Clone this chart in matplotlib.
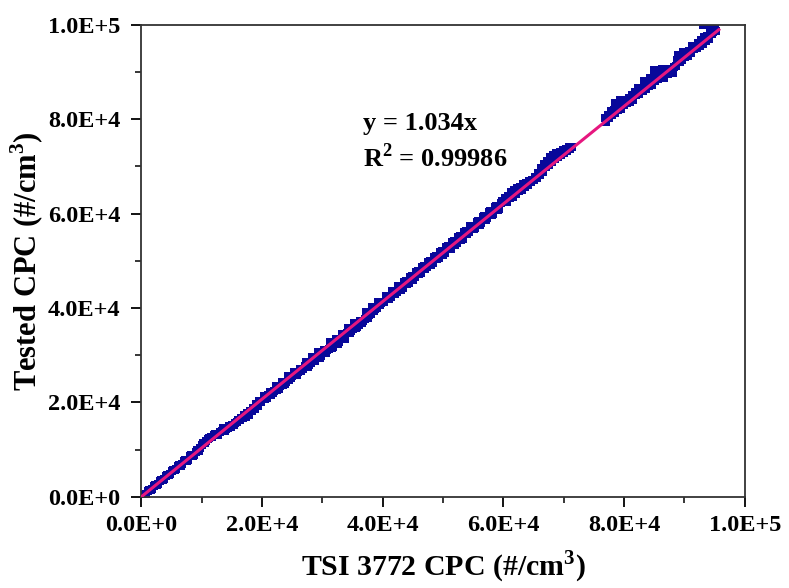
import matplotlib.pyplot as plt
import numpy as np
from matplotlib.ticker import MultipleLocator, FuncFormatter

plt.rcParams['font.family'] = ['Liberation Serif', 'DejaVu Serif']
plt.rcParams['font.weight'] = 'bold'
plt.rcParams['mathtext.fontset'] = 'custom'
plt.rcParams['mathtext.rm'] = 'Liberation Serif:bold'

# TSI 3772 CPC readings (x) and tested CPC readings (y)
tsi_a = [300, 800, 1300, 1800, 2300, 2800, 3300, 3800, 4300, 4800, 5300, 5800, 6300, 6800,
         7300, 7800, 8300, 8800, 9300, 9800, 10300, 10800, 11300, 11800, 12300, 12800, 13300,
         13800, 14300, 14800, 15300, 15800, 16300, 16800, 17300, 17800, 18300, 18800, 19300, 19800,
         550, 1050, 1550, 2050, 2550, 3050, 3550, 4050, 4550, 5050, 5550, 6050, 6550, 7050,
         7550, 8050, 8550, 9050, 9550, 10050, 10550, 11050, 11550, 12050, 12550, 13050, 13550,
         14050, 14550, 15050, 15550, 16050, 16550, 17050, 17550, 18050, 18550, 19050, 19550]
cpc_a = [450, 700, 1500, 1750, 2500, 2750, 3550, 3800, 4600, 4800, 5650, 5850, 6700, 6900,
         7750, 7900, 8800, 8950, 9900, 10300, 11400, 11900, 12400, 12700, 13300, 13100, 14000,
         14000, 14500, 14900, 15300, 15900, 16200, 16600, 17000, 17400, 18100, 18700, 19300, 20000,
         400, 1250, 1450, 2300, 2450, 3350, 3500, 4350, 4550, 5400, 5600, 6450, 6600, 7500,
         7700, 8600, 8700, 9600, 9700, 10900, 11500, 12300, 12700, 13000, 13300, 13700, 14500,
         14300, 15000, 15300, 15600, 16200, 16700, 17300, 17700, 18200, 18900, 19600, 20300]

tsi_b = [20300, 20800, 21300, 21800, 22300, 22800, 23300, 23800, 24300, 24800, 25300, 25800,
         26300, 26800, 27300, 27800, 28300, 28800, 29300, 29800, 30300, 30800, 31300, 31800,
         32300, 32800, 33300, 33800, 34300, 34800, 35300, 35800, 36300, 36800, 37300, 37800,
         38300, 38800, 39300, 39800,
         20550, 21050, 21550, 22050, 22550, 23050, 23550, 24050, 24550, 25050, 25550, 26050,
         26550, 27050, 27550, 28050, 28550, 29050, 29550, 30050, 30550, 31050, 31550, 32050,
         32550, 33050, 33550, 34050, 34550, 35050, 35550, 36050, 36550, 37050, 37550, 38050,
         38550, 39050, 39550]
cpc_b = [21300, 21000, 22300, 22000, 23400, 22900, 24400, 24000, 25500, 25100, 26500, 25900,
         27000, 27000, 28600, 27900, 29600, 28800, 30600, 29900, 31000, 31000, 32700, 31800,
         33500, 32900, 34500, 33500, 35800, 35200, 36900, 36000, 37200, 37200, 39100, 38600,
         40300, 39800, 41200, 41000,
         20700, 21600, 21600, 22400, 22700, 23500, 23700, 24400, 24800, 25500, 25800, 26400,
         26600, 27700, 27600, 28300, 28700, 29400, 29500, 30500, 30500, 31300, 31500, 32300,
         32400, 33400, 33700, 34600, 34600, 35500, 35700, 36300, 36800, 37600, 37900, 38800,
         39300, 40000, 40600]

tsi_c = [40300, 40800, 41300, 41800, 42300, 42800, 43300, 43800, 44300, 44800, 45300, 45800,
         46300, 46800, 47300, 47800, 48300, 48800, 49300, 49800, 50300, 50800, 51300, 51800,
         52300, 52800, 53300, 53800, 54300, 54800, 55300, 55800, 56300, 56800, 57300, 57800,
         58300, 58800, 59300, 59800,
         40550, 41050, 41550, 42050, 42550, 43050, 43550, 44050, 44550, 45050, 45550, 46050,
         46550, 47050, 47550, 48050, 48550, 49050, 49550, 50050, 50550, 51050, 51550, 52050,
         52550, 53050, 53550, 54050, 54550, 55050, 55550, 56050, 56550, 57050, 57550, 58050,
         58550, 59050, 59550]
cpc_c = [41300, 42500, 42300, 43600, 43300, 44700, 44300, 45700, 45300, 46800, 46500, 47800,
         47400, 48900, 48600, 49900, 49500, 51000, 50500, 52000, 51600, 53100, 52600, 54200,
         53700, 55300, 54700, 56300, 56000, 57400, 57000, 58500, 58000, 59500, 59000, 60600,
         60000, 61600, 61000, 62700,
         42500, 42000, 43500, 43000, 44600, 43900, 45500, 45000, 46600, 46000, 47700, 47100,
         48700, 48200, 49800, 49200, 50800, 50300, 51900, 51300, 52900, 52400, 54000, 53400,
         55100, 54500, 56200, 55600, 57300, 56700, 58300, 57600, 59300, 58600, 60300, 59700,
         61300, 60700, 62300]

tsi_d = [60300, 60800, 61300, 61800, 62300, 62800, 63300, 63800, 64300, 64800, 65300, 65800,
         66300, 66800, 67300, 67800, 68300, 68800, 69300, 69800, 70300, 70800, 71300,
         60550, 61050, 61550, 62050, 62550, 63050, 63550, 64050, 64550, 65050, 65550, 66050,
         66550, 67050, 67550, 68050, 68550, 69050, 69550, 70050, 70550, 71050]
cpc_d = [63300, 63800, 64600, 65000, 65400, 65700, 66200, 66500, 66900, 67200, 67800, 68600,
         69600, 70500, 71200, 71900, 72300, 72800, 73100, 73500, 73700, 74200, 74000,
         62400, 63200, 63600, 64200, 64800, 65000, 65600, 66100, 66700, 67200, 67600, 68200,
         68900, 69800, 70300, 71000, 71600, 72000, 72500, 72900, 73300, 73600]

tsi_e = [76800, 77300, 77800, 78300, 78800, 79300, 79800, 80300, 80800, 81300, 81800, 82300,
         82800, 83300, 83800, 84300, 84800, 85300, 85800, 86300, 86800, 87300, 87800, 88300,
         88800, 89300, 89800, 90300, 90800, 91300, 91800, 92300, 92800, 93300, 93800, 94300,
         94800, 95300,
         77050, 77550, 78050, 78550, 79050, 79550, 80050, 80550, 81050, 81550, 82050, 82550,
         83050, 83550, 84050, 84550, 85050, 85550, 86050, 86550, 87050, 87550, 88050, 88550,
         89050, 89550, 90050, 90550, 91050, 91550, 92050, 92550, 93050, 93550, 94050, 94550,
         95050,
         78500, 85000, 89000, 93000, 94200]
cpc_e = [80300, 80800, 81800, 82000, 82500, 84000, 83300, 84000, 84400, 85200, 85700, 86500,
         86400, 88000, 87600, 88800, 88200, 89300, 88800, 90600, 89500, 89500, 90700, 91000,
         92600, 92000, 94200, 93800, 94500, 95500, 95400, 96200, 96700, 97300, 97600, 98200,
         98400, 98700,
         79400, 80300, 80800, 81200, 81900, 82200, 82900, 83500, 83700, 84100, 85200, 85300,
         86000, 86300, 87100, 87300, 88000, 88400, 89300, 88800, 90100, 90600, 89800, 91200,
         92000, 92600, 93100, 93400, 94000, 94800, 95000, 95400, 96000, 96600, 97000, 98000,
         99900,
         83500, 90400, 93600, 100000, 99500]

slope = 1.034
r2 = 0.99986
fit_x = [0, 95700]

tsi = np.array(tsi_a + tsi_b + tsi_c + tsi_d + tsi_e)
cpc = np.array(cpc_a + cpc_b + cpc_c + cpc_d + cpc_e)

fig = plt.figure(figsize=(7.89, 5.88), dpi=100)
ax = fig.add_axes([0.179, 0.155, 0.765, 0.803])

ax.scatter(tsi, cpc, marker='s', s=30, color='#08089a', linewidths=0, zorder=2)
ax.plot(fit_x, [slope * v for v in fit_x], color='#e6177f', lw=2.2, zorder=3)

ax.set_xlim(0, 100000)
ax.set_ylim(0, 100000)

fmt = FuncFormatter(lambda v, p: '%.1fE+%d' % (v / 10 ** int(np.log10(v)), int(np.log10(v))) if v > 0 else '0.0E+0')
for axis in (ax.xaxis, ax.yaxis):
    axis.set_major_locator(MultipleLocator(20000))
    axis.set_minor_locator(MultipleLocator(10000))
    axis.set_major_formatter(fmt)

ax.tick_params(which='major', direction='out', length=7, width=1.3, labelsize=17.5)
ax.tick_params(axis='x', which='major', pad=6)
ax.tick_params(axis='y', which='major', pad=8)
ax.tick_params(which='minor', direction='out', length=4, width=1.1)
for sp in ax.spines.values():
    sp.set_linewidth(1.3)
    sp.set_color('#333333')

ax.set_xlabel('TSI 3772 CPC (#/cm$^3$)', fontsize=21.5, fontweight='bold', labelpad=9)
ax.set_ylabel('Tested CPC (#/cm$^3$)', fontsize=22, fontweight='bold', labelpad=1)

ax.text(0.3675, 0.79, 'y = 1.034x', transform=ax.transAxes, fontsize=19, fontweight='bold', va='center')
ax.text(0.3675, 0.718, 'R$^2$ = %.5f' % r2, transform=ax.transAxes, fontsize=19, fontweight='bold', va='center')

fig.savefig('out.png', dpi=100)
